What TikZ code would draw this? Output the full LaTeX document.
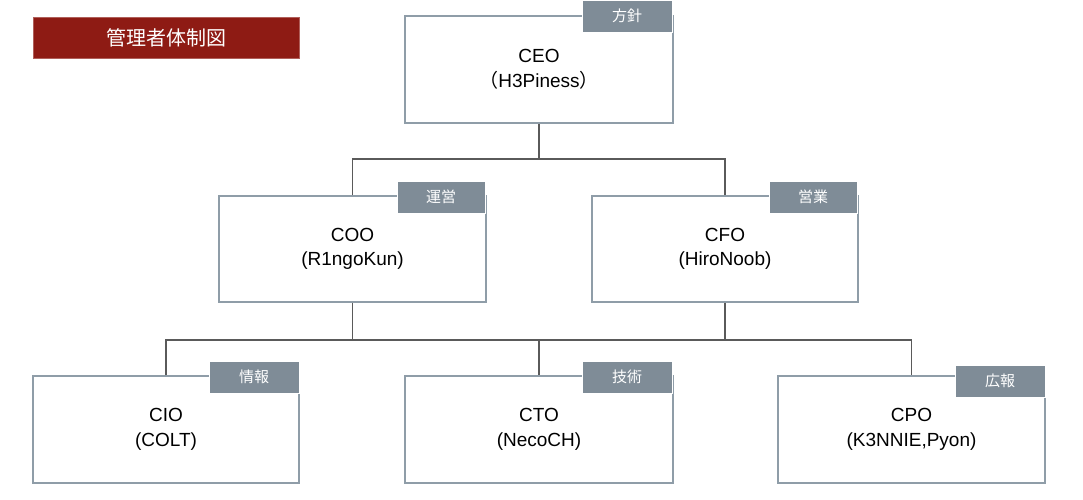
\documentclass[tikz,border=0pt]{standalone}
\usepackage{fontspec}
\setmainfont{Liberation Sans}
\newfontfamily\cjk{Noto Sans CJK JP}
\definecolor{titlered}{HTML}{8E1B14}
\definecolor{taggray}{HTML}{7F8C97}
\definecolor{boxline}{HTML}{8F9DA8}
\definecolor{conn}{HTML}{5A5A5A}
\begin{document}
\begin{tikzpicture}[x=1pt,y=-1pt,
  rolebox/.style={draw=boxline, line width=1.2pt, fill=white, inner sep=0pt,
    minimum width=267pt, minimum height=107pt, align=center,
    font=\fontsize{19}{24.5}\selectfont},
  tagbox/.style={fill=taggray, draw=white, line width=0.8pt, inner sep=0pt,
    minimum width=90pt, minimum height=32pt, text=white,
    font=\cjk\fontsize{15}{17}\selectfont},
  titlebox/.style={fill=titlered, draw=titlered!70!white, line width=0.6pt, inner sep=0pt,
    minimum width=266pt, minimum height=41pt, text=white,
    font=\cjk\fontsize{20}{22}\selectfont},
  link/.style={draw=conn, line width=1.5pt}]
\useasboundingbox (0,0) rectangle (1083,499);

\node[titlebox] (title) at (166,37.5) {管理者体制図};

\coordinate (j1) at (539,159);
\coordinate (j2) at (539,340);

\node[rolebox, minimum width=268pt] (ceo) at (539,69.5) {CEO\\{\cjk （}H3Piness{\cjk ）}};
\node[rolebox, minimum height=106pt] (coo) at (352.5,249) {COO\\(R1ngoKun)};
\node[rolebox, minimum width=266pt, minimum height=106pt] (cfo) at (725,249) {CFO\\(HiroNoob)};
\node[rolebox, minimum width=266pt] (cio) at (166,429.5) {CIO\\(COLT)};
\node[rolebox, minimum width=268pt] (cto) at (539,429.5) {CTO\\(NecoCH)};
\node[rolebox] (cpo) at (911.5,429.5) {CPO\\(K3NNIE,Pyon)};

\draw[link] (ceo.south) -- (j1);
\draw[link] (coo.north) |- (j1) -| (cfo.north);
\draw[link] (coo.south) |- (j2);
\draw[link] (cfo.south) |- (j2);
\draw[link] (cio.north) |- (j2) -| (cpo.north);
\draw[link] (j2) -- (cto.north);

\node[tagbox] (ceotag) at (627,16) {方針};
\node[tagbox, minimum width=88pt] (cootag) at (441,197) {運営};
\node[tagbox, minimum width=88pt] (cfotag) at (813,197) {営業};
\node[tagbox] (ciotag) at (254,377) {情報};
\node[tagbox] (ctotag) at (627,377) {技術};
\node[tagbox] (cpotag) at (1000,381) {広報};
\end{tikzpicture}
\end{document}
